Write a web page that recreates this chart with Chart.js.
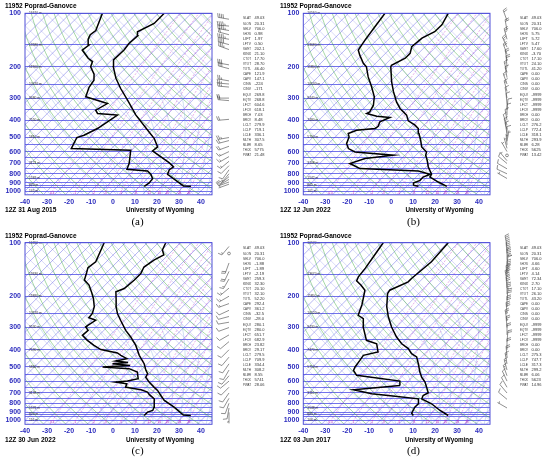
<!DOCTYPE html>
<html>
<head>
<meta charset="utf-8">
<title>11952 Poprad-Ganovce soundings</title>
<script src="https://cdn.jsdelivr.net/npm/chart.js@4.4.1/dist/chart.umd.min.js"></script>
<style>
  html, body { margin: 0; padding: 0; background: #fff; }
  body { position: relative; width: 550px; height: 459px; overflow: hidden; font-family: "Liberation Sans", Arial, sans-serif; }
  .panel { position: absolute; width: 275px; height: 230px; }
  .panel canvas { position: absolute; left: 0; top: 0; }
  .lbl { position: absolute; white-space: nowrap; font-weight: bold; line-height: 1; color: #000; }
  .cap { position: absolute; white-space: nowrap; line-height: 1; color: #000;
         font-family: "Liberation Serif", "DejaVu Serif", serif; transform: translateX(-50%); }
</style>
</head>
<body>
<script>
// ---- texts ----
const STATION = '11952  Poprad-Ganovce';
const SOURCE = 'University of Wyoming';
const panelLetters = ['(a)', '(b)', '(c)', '(d)'];
const soundingTimes = ['12Z 31 Aug 2015', '12Z 12 Jun 2022', '12Z 30 Jun 2022', '12Z 03 Jun 2017'];

// ---- axes ----
const pressureLabels = [100, 200, 300, 400, 500, 600, 700, 800, 900, 1000];
const isobars = [100, 150, 200, 250, 300, 350, 400, 450, 500, 550, 600, 650, 700, 750, 800, 850, 900, 925, 950, 1000];
const temperatureLabels = [-40, -30, -20, -10, 0, 10, 20, 30, 40];
const mixingRatios = [0.4, 1, 2, 3, 5, 8, 12, 16, 20, 28, 36];
const heightLevels = [100, 150, 200, 250, 300, 400, 500, 700, 850, 925, 1000];

// ---- profiles [pressure hPa, temperature C] ----
const tempA = [[941,33.3],[936,29.7],[805,17.2],[758,15.9],[732,16.6],[695,12.9],[595,-0.2],[565,0.3],[507,-5.0],[465,-10.4],[374,-24.0],[354,-27.0],[308,-34.6],[265,-43.0],[232,-49.8],[200,-56.2],[183,-59.2],[161,-58.9],[148,-59.6],[134,-59.2],[127,-61.1],[114,-57.3],[100,-57.3]];
const dewA = [[941,12.1],[901,12.8],[852,12.4],[805,9.6],[771,6.6],[755,-3.5],[701,-5.1],[590,-10.4],[577,-38.2],[500,-40.7],[485,-38.5],[445,-35.4],[408,-33.9],[374,-32.4],[366,-42.2],[351,-44.5],[322,-42.2],[295,-55.1],[261,-57.9],[238,-58.9],[220,-61.6],[200,-66.5],[187,-68.0],[179,-71.5],[161,-77.9],[151,-77.1],[140,-80.1],[132,-81.2],[125,-80.6],[100,-85.4]];

const tempB = [[941,23.2],[890,17.4],[834,11.3],[805,10.8],[732,6.0],[672,2.5],[629,-0.5],[603,-1.6],[565,-6.1],[518,-9.6],[475,-13.4],[445,-16.0],[426,-19.0],[403,-24.0],[374,-27.4],[343,-33.4],[315,-38.0],[276,-44.0],[243,-49.3],[200,-56.5],[196,-56.9],[179,-53.8],[168,-53.8],[154,-56.1],[138,-55.3],[127,-52.4],[116,-52.3],[100,-54.6]];
const dewB = [[941,10.3],[929,7.5],[901,6.5],[871,8.3],[834,8.2],[805,10.1],[771,3.3],[748,-24.4],[716,-28.9],[701,-31.2],[657,-26.6],[629,-15.2],[603,-34.2],[577,-38.7],[541,-41.8],[496,-43.7],[475,-45.6],[455,-43.3],[445,-35.7],[432,-35.3],[408,-36.5],[386,-33.9],[379,-40.5],[366,-46.3],[359,-45.6],[329,-47.0],[295,-50.4],[259,-56.2],[228,-62.2],[200,-67.6],[191,-70.6],[172,-75.9],[161,-78.9],[141,-80.4],[119,-81.9],[100,-83.4]];

const tempC = [[937,33.1],[932,29.5],[841,21.7],[771,14.2],[723,10.4],[677,6.6],[649,3.5],[608,-1.0],[570,-4.8],[545,-5.5],[522,-7.8],[479,-11.6],[430,-17.6],[378,-23.7],[339,-29.8],[311,-35.1],[273,-42.0],[250,-46.5],[229,-50.2],[210,-53.2],[189,-57.0],[181,-54.7],[162,-54.0],[149,-54.0],[137,-55.5],[125,-54.0],[117,-52.0],[110,-54.8],[100,-56.6]];
const dewC = [[937,11.9],[897,11.9],[878,13.5],[841,12.6],[755,8.9],[713,4.6],[692,2.8],[671,-1.2],[649,-9.4],[621,-10.4],[608,-16.1],[600,-11.3],[582,-7.5],[534,-10.9],[511,-16.2],[500,-29.0],[490,-17.2],[479,-26.0],[471,-19.5],[463,-25.7],[449,-21.7],[430,-26.0],[417,-28.6],[399,-37.7],[378,-42.7],[354,-48.0],[332,-52.5],[311,-52.2],[298,-54.8],[291,-54.5],[273,-53.3],[264,-57.6],[250,-57.9],[229,-60.1],[206,-64.2],[189,-68.1],[173,-72.3],[162,-76.7],[148,-78.9],[138,-80.7],[128,-79.8],[100,-84.6]];

const tempD = [[937,23.7],[878,17.7],[805,10.8],[755,4.1],[723,3.2],[698,4.3],[649,1.0],[608,-2.0],[570,-5.8],[534,-8.9],[479,-13.4],[439,-17.2],[421,-21.0],[394,-24.8],[370,-30.0],[339,-35.4],[298,-42.2],[261,-48.3],[229,-53.6],[193,-59.2],[185,-59.7],[166,-55.1],[159,-55.1],[128,-53.6],[100,-54.6]];
const dewD = [[937,7.8],[909,6.0],[841,4.7],[805,4.8],[755,2.6],[723,-12.7],[707,-21.0],[671,-31.1],[635,-11.9],[600,-13.9],[557,-36.2],[522,-39.9],[500,-40.7],[459,-41.5],[430,-42.2],[412,-37.0],[370,-41.4],[354,-47.6],[298,-55.1],[267,-58.9],[256,-62.7],[224,-65.7],[206,-68.0],[185,-71.0],[173,-75.2],[164,-79.0],[155,-80.1],[139,-80.8],[120,-82.3],[100,-84.2]];

// ---- winds [pressure hPa, direction deg, speed kt] ----
const windA = [[108,280,40],[118,275,45],[125,280,45],[132,285,50],[140,280,45],[150,285,40],[160,290,35],[195,280,30],[205,285,30],[240,280,25],[250,275,25],[260,275,25],[300,270,20],[310,275,20],[395,265,20],[500,260,25],[520,255,20],[560,250,20],[600,245,15],[640,240,15],[680,230,15],[720,225,10],[760,215,10],[800,220,15],[830,230,10],[860,240,10],[890,250,10],[915,250,5]];
const windB = [[110,340,20],[125,350,20],[140,345,25],[155,335,25],[170,340,20],[185,350,20],[200,355,20],[215,345,15],[230,350,15],[250,340,15],[275,345,15],[300,350,10],[325,355,10],[350,5,10],[375,0,10],[400,350,10],[425,340,10],[450,345,10],[475,350,10],[500,0,10],[525,10,5],[550,355,5],[575,345,5],[600,330,5],[630,0,0],[675,320,5],[700,310,10],[750,300,10],[800,295,10],[850,300,5]];
const windC = [[105,220,15],[115,0,0],[130,200,20],[145,205,20],[160,210,15],[180,230,15],[200,240,15],[220,250,15],[240,245,10],[260,255,10],[280,260,10],[300,250,10],[330,240,10],[360,230,10],[400,225,10],[440,220,10],[480,215,10],[520,210,10],[560,220,10],[600,230,10],[650,225,10],[700,215,10],[750,210,10],[800,200,10],[850,190,10],[900,180,5]];
const windD = [[105,350,40],[115,355,45],[125,0,45],[135,5,50],[145,0,45],[155,355,45],[165,350,40],[180,355,35],[195,0,35],[210,5,30],[230,0,30],[250,355,30],[275,350,25],[300,355,25],[330,0,20],[360,5,20],[400,0,20],[440,355,20],[480,350,15],[520,345,15],[560,340,15],[600,335,10],[650,330,10],[700,320,10],[760,310,10],[850,300,5]];

// ---- station indices ----
const statNames = ['SLAT','SLON','SELV','SHOW','LIFT','LFTV','SWET','KINX','CTOT','VTOT','TOTL','CAPE','CAPV','CINS','CINV','EQLV','EQTV','LFCT','LFCV','BRCH','BRCV','LCLT','LCLP','LCLE','MLTH','MLMR','THCK','PWAT'];
const statsA = ['49.03','20.31','706.0','0.98','1.97','0.50','202.1','21.10','17.70','28.70','46.40','121.9','147.1','-224','-171','269.8','268.8','604.6','618.1','7.03','8.48','279.9','719.1','336.1','307.5','8.65','5775','21.48'];
const statsB = ['49.03','20.31','706.0','5.75','5.72','5.47','17.60','-3.70','17.10','24.10','41.20','0.00','0.00','0.00','0.00','-9999','-9999','-9999','-9999','0.00','0.00','276.2','772.4','318.1','293.9','6.28','5625','13.42'];
const statsC = ['49.03','20.31','706.0','-1.88','-1.89','-2.19','259.3','32.30','20.10','32.10','52.20','292.4','361.2','-32.5','-28.0','280.1','280.0','651.7','682.9','23.82','29.17','279.5','709.9','334.4','308.2','8.55','5741','28.06'];
const statsD = ['49.03','20.31','706.0','4.66','4.60','4.14','72.34','2.70','17.10','26.10','43.20','0.00','0.00','0.00','0.00','-9999','-9999','-9999','-9999','0.00','0.00','275.3','747.7','317.3','299.2','6.06','5623','14.96'];

// geopotential heights (m) at heightLevels
const heightsA = [16610, 13580, 11900, 10470, 9480, 7550, 5810, 3121, 1569, 820, 145];
const heightsB = [16560, 13680, 11850, 10530, 9440, 7480, 5700, 3108, 1542, 801, 101];
const heightsC = [16650, 13630, 11880, 10570, 9530, 7590, 5840, 3138, 1576, 820, 116];
const heightsD = [16570, 13670, 11850, 10520, 9430, 7470, 5710, 3110, 1548, 805, 106];

// ---- styling ----
const SKEW = 35;
const AXIS_BLUE = 'rgb(45,45,190)';
const ISOBAR = 'rgb(115,115,235)';
const ISOTHERM = 'rgba(50,50,220,0.6)';
const LATTICE = 'rgba(80,80,220,0.42)';
const DRY = 'rgba(60,170,60,0.75)';
const MOIST = 'rgba(120,165,220,0.6)';
const MIX = 'rgba(200,50,200,0.65)';

const skewX = (t, p) => t + SKEW * Math.log(1000 / p);

function logLevels(top, bottom, n) {
  const out = [];
  for (let i = 0; i <= n; i++) out.push(bottom * Math.pow(top / bottom, i / n));
  return out;
}

function dewFromMixing(w, p) {
  const e = w * p / (622 + w);
  const l = Math.log(e / 6.112);
  return 243.5 * l / (17.67 - l);
}

function moistAdiabat(tStart) {
  const pts = [];
  let T = tStart + 273.15, p = 1050;
  const n = 80, dl = Math.log(250 / 1050) / n;
  for (let i = 0; i <= n; i++) {
    pts.push([p, T - 273.15]);
    const tc = T - 273.15;
    const es = 6.112 * Math.exp(17.67 * tc / (tc + 243.5));
    const rs = 0.622 * es / (p - es);
    const g = (287 * T + 2.5e6 * rs) / (1004 + 2.5e6 * 2.5e6 * rs * 0.622 / (287 * T * T));
    T += g * dl;
    p *= Math.exp(dl);
  }
  return pts;
}

const skewBackground = {
  id: 'skewBackground',
  beforeDatasetsDraw(chart) {
    const { ctx, chartArea: a, scales: { x, y } } = chart;
    const toXY = (p, t) => [x.getPixelForValue(skewX(t, p)), y.getPixelForValue(p)];
    const stroke = (pts, color, width, dash) => {
      ctx.beginPath();
      pts.forEach(([px, py], k) => k ? ctx.lineTo(px, py) : ctx.moveTo(px, py));
      ctx.strokeStyle = color;
      ctx.lineWidth = width;
      ctx.setLineDash(dash || []);
      ctx.stroke();
    };
    const levels = logLevels(100, 1050, 60);
    ctx.save();
    ctx.beginPath();
    ctx.rect(a.left, a.top, a.right - a.left, a.bottom - a.top);
    ctx.clip();
    for (let t = -150; t <= 45; t += 5) stroke([toXY(1050, t), toXY(100, t)], ISOTHERM, 0.6);
    for (let c = -40; c <= 200; c += 5) {
      stroke([[x.getPixelForValue(c - SKEW * Math.log(1000 / 1050)), y.getPixelForValue(1050)],
              [x.getPixelForValue(c - SKEW * Math.log(10)), y.getPixelForValue(100)]], LATTICE, 0.5);
    }
    for (let th = 230; th <= 480; th += 10) {
      stroke(levels.map(p => toXY(p, th * Math.pow(p / 1000, 0.2857) - 273.15)), DRY, 0.6);
    }
    for (let t0 = 0; t0 <= 44; t0 += 4) stroke(moistAdiabat(t0).map(([p, t]) => toXY(p, t)), MOIST, 0.6);
    for (const w of mixingRatios) stroke(levels.map(p => toXY(p, dewFromMixing(w, p))), MIX, 0.6, [2, 1.5]);
    ctx.restore();

    ctx.save();
    ctx.setLineDash([]);
    // mixing ratio labels
    ctx.fillStyle = 'rgb(190,40,190)';
    ctx.font = '3px "Liberation Sans"';
    ctx.textAlign = 'center';
    ctx.textBaseline = 'middle';
    for (const w of mixingRatios) {
      const [px, py] = toXY(1000, dewFromMixing(w, 1000));
      if (px < a.right - 2) ctx.fillText(w < 1 ? w.toFixed(1) : String(w), px, py + 2);
    }
    // heights of standard levels
    const heights = chart.options.plugins.sidePanel.heights;
    ctx.fillStyle = '#333';
    ctx.font = '3.3px "Liberation Sans"';
    ctx.textAlign = 'left';
    heightLevels.forEach((p, k) => ctx.fillText(heights[k] + ' m', a.left + 4, y.getPixelForValue(p)));
    ctx.restore();
  }
};

function drawBarb(ctx, x, y, dir, speed) {
  ctx.beginPath();
  if (speed < 2.5) {
    ctx.arc(x, y, 1.4, 0, Math.PI * 2);
    ctx.stroke();
    return;
  }
  const ang = dir * Math.PI / 180;
  const ux = Math.sin(ang), uy = -Math.cos(ang);
  const nx = -uy, ny = ux;
  const L = 11, F = 4, gap = 1.8;
  ctx.moveTo(x, y);
  ctx.lineTo(x + ux * L, y + uy * L);
  let s = Math.round(speed / 5) * 5, d = L;
  while (s >= 50) {
    const bx = x + ux * d, by = y + uy * d;
    ctx.moveTo(bx, by);
    ctx.lineTo(bx + nx * F, by + ny * F);
    ctx.lineTo(x + ux * (d - 2.2), y + uy * (d - 2.2));
    d -= 3; s -= 50;
  }
  while (s >= 10) {
    const bx = x + ux * d, by = y + uy * d;
    ctx.moveTo(bx, by);
    ctx.lineTo(bx + nx * F + ux * 1.2, by + ny * F + uy * 1.2);
    d -= gap; s -= 10;
  }
  if (s >= 5) {
    if (d === L) d -= gap;
    const bx = x + ux * d, by = y + uy * d;
    ctx.moveTo(bx, by);
    ctx.lineTo(bx + nx * F / 2 + ux * 0.6, by + ny * F / 2 + uy * 0.6);
  }
  ctx.stroke();
}

const sidePanel = {
  id: 'sidePanel',
  afterDraw(chart, args, opts) {
    const { ctx, chartArea: a, scales: { y } } = chart;
    ctx.save();
    ctx.strokeStyle = 'rgb(80,80,215)';
    ctx.lineWidth = 1;
    ctx.strokeRect(a.left, a.top, a.right - a.left, a.bottom - a.top);
    // wind barbs
    ctx.strokeStyle = 'rgb(70,70,70)';
    ctx.lineWidth = 0.6;
    opts.wind.forEach(([p, dir, kt]) => drawBarb(ctx, a.right + 17, y.getPixelForValue(p), dir, kt));
    // indices
    ctx.fillStyle = '#333';
    ctx.font = '4.2px "Liberation Sans"';
    ctx.textBaseline = 'middle';
    statNames.forEach((name, k) => {
      const ty = 18.3 + k * 5.07;
      ctx.fillText(name, opts.statX, ty, 8);
      ctx.fillText(opts.stats[k], opts.statX + 11.5, ty, 10);
    });
    ctx.restore();
  }
};

const panels = [
  { x: 0,   y: 0,   area: { l: 25,   t: 13.3, r: 212, b: 194.8 }, temp: tempA, dew: dewA, wind: windA, stats: statsA, heights: heightsA, statX: 243, univX: 160, capX: 137.5, capY: 221 },
  { x: 275, y: 0,   area: { l: 28.3, t: 13.3, r: 215, b: 194.8 }, temp: tempB, dew: dewB, wind: windB, stats: statsB, heights: heightsB, statX: 245, univX: 164.5, capX: 138.5, capY: 221 },
  { x: 0,   y: 230, area: { l: 25,   t: 12.7, r: 212, b: 194.3 }, temp: tempC, dew: dewC, wind: windC, stats: statsC, heights: heightsC, statX: 243, univX: 160, capX: 137.5, capY: 220 },
  { x: 275, y: 230, area: { l: 28.3, t: 12.7, r: 215, b: 194.3 }, temp: tempD, dew: dewD, wind: windD, stats: statsD, heights: heightsD, statX: 245, univX: 164, capX: 138.5, capY: 220 }
];

function addText(parent, text, x, cy, size, cls) {
  const el = document.createElement('div');
  el.className = cls;
  el.textContent = text;
  el.style.fontSize = size + 'px';
  el.style.left = x + 'px';
  el.style.top = (cy - size / 2) + 'px';
  parent.appendChild(el);
  return el;
}

function profileData(rows) {
  return rows.map(([p, t]) => ({ x: skewX(t, p), y: p }));
}

const tickFont = { family: '"Liberation Sans", Arial, sans-serif', weight: 'bold', size: 7 };

panels.forEach((cfg, i) => {
  const wrap = document.createElement('div');
  wrap.className = 'panel';
  wrap.style.left = cfg.x + 'px';
  wrap.style.top = cfg.y + 'px';
  const canvas = document.createElement('canvas');
  canvas.width = 275;
  canvas.height = 230;
  canvas.style.width = '275px';
  canvas.style.height = '230px';
  wrap.appendChild(canvas);
  document.body.appendChild(wrap);

  addText(wrap, STATION, 5, 6, 6.5, 'lbl');
  addText(wrap, soundingTimes[i], 5, 210, 6.6, 'lbl');
  const u = addText(wrap, SOURCE, cfg.univX, 210, 6.3, 'lbl');
  u.style.transform = 'translateX(-50%)';
  addText(wrap, panelLetters[i], cfg.capX, cfg.capY, 11, 'cap');

  const a = cfg.area;
  new Chart(canvas, {
    type: 'scatter',
    data: {
      datasets: [
        { label: 'Temperature', data: profileData(cfg.temp), showLine: true, borderColor: '#000', borderWidth: 1.5, pointRadius: 0 },
        { label: 'Dew point', data: profileData(cfg.dew), showLine: true, borderColor: '#000', borderWidth: 1.5, pointRadius: 0 }
      ]
    },
    options: {
      responsive: false,
      animation: false,
      devicePixelRatio: 1,
      layout: { padding: { top: a.t, right: 275 - a.r, bottom: 230 - a.b - 15, left: 0 } },
      plugins: {
        legend: { display: false },
        tooltip: { enabled: false },
        sidePanel: { wind: cfg.wind, stats: cfg.stats, heights: cfg.heights, statX: cfg.statX }
      },
      scales: {
        x: {
          type: 'linear', min: -40, max: 45, position: 'bottom',
          afterBuildTicks: s => { s.ticks = temperatureLabels.map(v => ({ value: v })); },
          afterFit: s => { s.height = 15; },
          grid: { display: false, drawTicks: false },
          border: { display: false },
          ticks: { color: AXIS_BLUE, font: tickFont, padding: 3, maxRotation: 0, autoSkip: false }
        },
        y: {
          type: 'logarithmic', reverse: true, min: 100, max: 1050,
          afterBuildTicks: s => { s.ticks = isobars.map(v => ({ value: v })); },
          afterFit: s => { s.width = a.l; },
          grid: { color: ISOBAR, lineWidth: 1, drawTicks: false },
          border: { display: false },
          ticks: {
            color: AXIS_BLUE, font: tickFont, padding: 4, autoSkip: false,
            callback: v => pressureLabels.includes(v) ? String(v) : ''
          }
        }
      }
    },
    plugins: [skewBackground, sidePanel]
  });
});
</script>
</body>
</html>
